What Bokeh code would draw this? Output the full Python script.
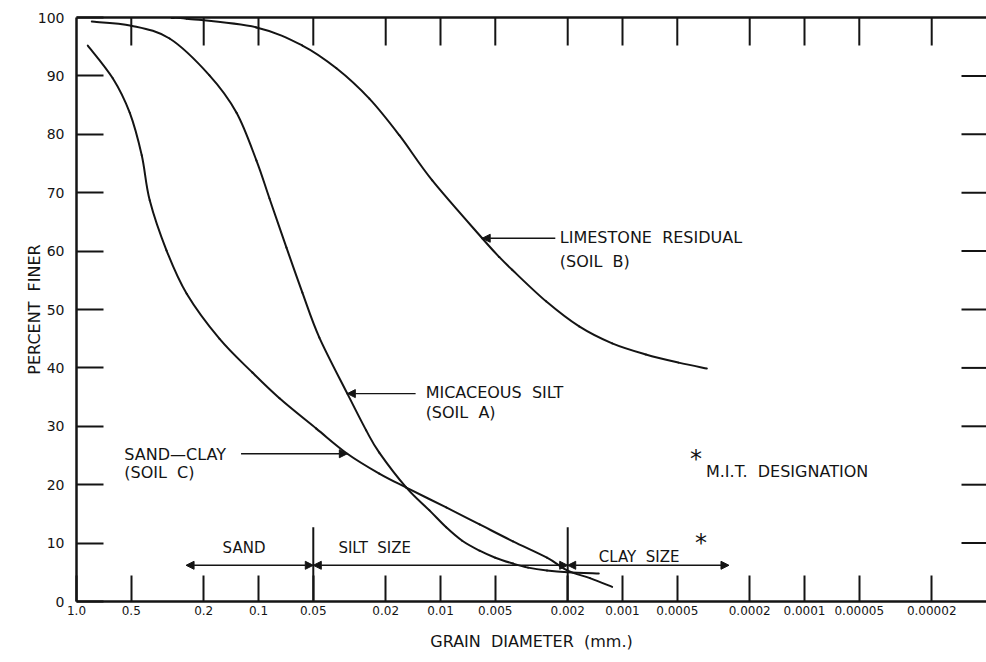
import math
from bokeh.plotting import figure
from bokeh.models import (Range1d, LogAxis, FixedTicker, Label, Arrow, NormalHead, Title)
from bokeh.embed import file_html
from bokeh.resources import INLINE

# ---------------- data ----------------
# Soil A - micaceous silt
soil_a_d = [0.824, 0.5, 0.308, 0.186, 0.132, 0.1026, 0.0870, 0.0702, 0.0574, 0.0463,
            0.0325, 0.0256, 0.0217, 0.0154, 0.0115, 0.0093, 0.0076, 0.0061, 0.0050,
            0.0040, 0.0033, 0.0026, 0.0020, 0.00135]
soil_a_pct = [99.3, 98.6, 96.4, 90.1, 83.7, 75.5, 69.0, 60.6, 52.9, 45.2,
              35.6, 29.3, 25.5, 19.5, 15.6, 12.7, 10.4, 8.7, 7.5,
              6.5, 5.8, 5.3, 5.0, 4.8]

# Soil B - limestone residual
soil_b_d = [0.30, 0.248, 0.1026, 0.0574, 0.0373, 0.0246, 0.0168, 0.0111, 0.0059,
            0.00476, 0.00404, 0.00263, 0.00173, 0.00114, 0.000744, 0.000491, 0.000344]
soil_b_pct = [99.9, 99.8, 98.3, 95.2, 91.3, 86.1, 79.8, 72.1, 62.2,
              59.0, 56.8, 51.4, 47.1, 44.2, 42.3, 40.9, 39.9]

# Soil C - sand-clay
soil_c_d = [0.867, 0.632, 0.510, 0.438, 0.396, 0.320, 0.248, 0.164, 0.108, 0.0767,
            0.0481, 0.0325, 0.0217, 0.0154, 0.0093, 0.0061, 0.0040, 0.0026, 0.0020,
            0.00151, 0.00114]
soil_c_pct = [95.2, 89.6, 83.7, 76.4, 68.7, 60.1, 52.7, 45.0, 39.2, 34.8,
              29.6, 25.3, 21.9, 19.5, 16.1, 13.2, 10.3, 7.5, 5.3,
              4.0, 2.5]

# M.I.T. size classes: sand / silt / clay extents (mm) and the class boundaries
class_edges = [0.25, 0.05, 0.002, 0.00026]
class_names = ["SAND", "SILT\u00a0\u00a0SIZE", "CLAY\u00a0\u00a0SIZE"]
mit_bounds = [0.05, 0.002]
mit_bound_height = 12.7
class_arrow_level = 6.2

x_ticks = [1.0, 0.5, 0.2, 0.1, 0.05, 0.02, 0.01, 0.005, 0.002, 0.001, 0.0005,
           0.0002, 0.0001, 0.00005, 0.00002]
x_tick_labels = ["1.0", "0.5", "0.2", "0.1", "0.05", "0.02", "0.01", "0.005", "0.002",
                 "0.001", "0.0005", "0.0002", "0.0001", "0.00005", "0.00002"]
y_ticks = [0, 10, 20, 30, 40, 50, 60, 70, 80, 90, 100]
y_tick_labels = [str(v) for v in y_ticks]

INK = "#141414"
FONT = "DejaVu Sans"
X_START, X_END = 1.0, 1e-5
FRAME_W, FRAME_H = 910, 584          # pixels of the plotting frame
PX_PER_DEC = FRAME_W / math.log10(X_START / X_END)
PX_PER_PCT = FRAME_H / 100.0

p = figure(width=986, height=662, x_axis_type="log",
           x_range=Range1d(X_START, X_END), y_range=Range1d(0, 100),
           output_backend="svg", toolbar_location=None,
           min_border_left=76, min_border_right=0, min_border_top=17,
           min_border_bottom=61)
p.outline_line_color = None
p.grid.visible = False
p.background_fill_color = "white"
p.border_fill_color = "white"

# bottom axis
xa = p.xaxis[0]
xa.ticker = FixedTicker(ticks=x_ticks)
xa.major_label_overrides = {t: s for t, s in zip(x_ticks, x_tick_labels)}
xa.major_tick_in = 26
xa.major_tick_out = 0
xa.minor_tick_in = 0
xa.minor_tick_out = 0
xa.major_label_standoff = 4
xa.axis_line_width = 2.5
xa.axis_line_color = INK
xa.major_tick_line_width = 2
xa.major_tick_line_color = INK
xa.major_label_text_font = FONT
xa.major_label_text_font_size = "12px"
xa.major_label_text_color = INK

# left axis
ya = p.yaxis[0]
ya.ticker = FixedTicker(ticks=y_ticks)
ya.major_label_overrides = {t: s for t, s in zip(y_ticks, y_tick_labels)}
ya.major_tick_in = 27
ya.major_tick_out = 0
ya.minor_tick_in = 0
ya.minor_tick_out = 0
ya.major_label_standoff = 12
ya.axis_line_width = 2.5
ya.axis_line_color = INK
ya.major_tick_line_width = 2
ya.major_tick_line_color = INK
ya.major_label_text_font = FONT
ya.major_label_text_font_size = "14px"
ya.major_label_text_color = INK
ya.axis_label = "PERCENT\u00a0\u00a0FINER"
ya.axis_label_text_font = FONT
ya.axis_label_text_font_size = "16px"
ya.axis_label_text_font_style = "normal"
ya.axis_label_text_color = INK
ya.axis_label_standoff = -9

# top border line (axis without ticks)
top = LogAxis(ticker=FixedTicker(ticks=[]), major_tick_in=0, major_tick_out=0,
              minor_tick_in=0, minor_tick_out=0, axis_line_width=2.5,
              axis_line_color=INK)
p.add_layout(top, "above")

# x-axis title, centred under the chart body
p.add_layout(Title(text="GRAIN\u00a0\u00a0DIAMETER\u00a0\u00a0(mm.)", align="center",
                   offset=15, standoff=24, text_font=FONT, text_font_size="16px",
                   text_font_style="normal", text_color=INK), "below")

# inward ticks on the top and right edges (from the tick arrays)
top_len = 28 / PX_PER_PCT
p.segment(x0=x_ticks[1:], y0=[100] * (len(x_ticks) - 1), x1=x_ticks[1:],
          y1=[100 - top_len] * (len(x_ticks) - 1), line_color=INK, line_width=2)
right_x1 = X_END * 10 ** (25 / PX_PER_DEC)
p.segment(x0=[X_END] * (len(y_ticks) - 2), y0=y_ticks[1:-1],
          x1=[right_x1] * (len(y_ticks) - 2), y1=y_ticks[1:-1],
          line_color=INK, line_width=2)


def smooth_curve(d, pct):
    """Catmull-Rom curve through the read points, as cubic Bezier pieces."""
    lx = [math.log10(v) for v in d]
    n = len(lx)
    out = {k: [] for k in ("x0", "y0", "x1", "y1", "cx0", "cy0", "cx1", "cy1")}
    for i in range(n - 1):
        a, b = max(i - 1, 0), min(i + 2, n - 1)
        c0x = lx[i] + (lx[i + 1] - lx[a]) / 6
        c0y = pct[i] + (pct[i + 1] - pct[a]) / 6
        c1x = lx[i + 1] - (lx[b] - lx[i]) / 6
        c1y = pct[i + 1] - (pct[b] - pct[i]) / 6
        out["x0"].append(d[i]); out["y0"].append(pct[i])
        out["x1"].append(d[i + 1]); out["y1"].append(pct[i + 1])
        out["cx0"].append(10 ** c0x); out["cy0"].append(c0y)
        out["cx1"].append(10 ** c1x); out["cy1"].append(c1y)
    return out


for d, pct in [(soil_a_d, soil_a_pct), (soil_b_d, soil_b_pct), (soil_c_d, soil_c_pct)]:
    p.bezier(line_color=INK, line_width=2, line_cap="round", **smooth_curve(d, pct))

# M.I.T. class boundaries
p.segment(x0=mit_bounds, y0=[0] * len(mit_bounds), x1=mit_bounds,
          y1=[mit_bound_height] * len(mit_bounds), line_color=INK, line_width=2)


def head():
    return NormalHead(size=8, fill_color=INK, line_color=INK, line_width=1)


# class extent arrows
for i in range(len(class_names)):
    p.add_layout(Arrow(x_start=class_edges[i], y_start=class_arrow_level,
                       x_end=class_edges[i + 1], y_end=class_arrow_level,
                       start=head(), end=head(), line_color=INK, line_width=1.5))


def lab(x, y, text, size="16px", align="left"):
    p.add_layout(Label(x=x, y=y, text=text, text_font=FONT, text_font_size=size,
                       text_color=INK, text_align=align, text_baseline="middle"))


# class names
lab(0.1201, 9.2, class_names[0], "15px", "center")
lab(0.02298, 9.2, class_names[1], "15px", "center")
lab(0.00081, 7.6, class_names[2], "15px", "center")

# curve labels with leader arrows (tips on curve points)
tip_b = soil_b_d.index(0.0059)
tip_a = soil_a_d.index(0.0325)
tip_c = soil_c_d.index(0.0325)

lab(0.00221, 62.4, "LIMESTONE\u00a0\u00a0RESIDUAL")
lab(0.00221, 58.3, "(SOIL\u00a0\u00a0B)")
p.add_layout(Arrow(x_start=0.00234, y_start=soil_b_pct[tip_b], x_end=soil_b_d[tip_b],
                   y_end=soil_b_pct[tip_b], end=head(), line_color=INK, line_width=1.4))

lab(0.01207, 35.8, "MICACEOUS\u00a0\u00a0SILT")
lab(0.01207, 32.4, "(SOIL\u00a0\u00a0A)")
p.add_layout(Arrow(x_start=0.0137, y_start=soil_a_pct[tip_a], x_end=soil_a_d[tip_a],
                   y_end=soil_a_pct[tip_a], end=head(), line_color=INK, line_width=1.4))

lab(0.5463, 25.1, "SAND\u2014CLAY")
lab(0.5463, 22.1, "(SOIL\u00a0\u00a0C)")
p.add_layout(Arrow(x_start=0.1247, y_start=soil_c_pct[tip_c], x_end=soil_c_d[tip_c],
                   y_end=soil_c_pct[tip_c], end=head(), line_color=INK, line_width=1.4))

# M.I.T. designation note
lab(0.000394, 24.4, "*", "24px", "center")
lab(0.000348, 22.3, "M.I.T.\u00a0\u00a0DESIGNATION")
lab(0.000370, 10.0, "*", "24px", "center")

open("out.html", "w").write(file_html(p, INLINE))
